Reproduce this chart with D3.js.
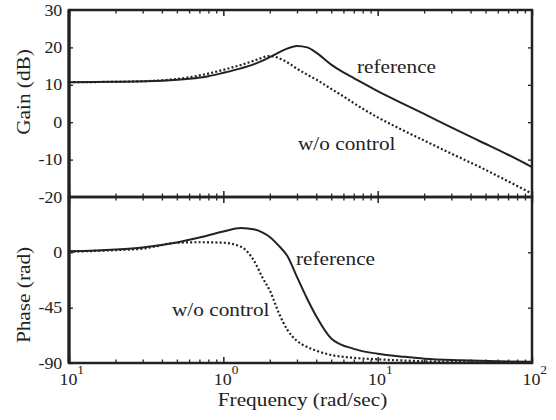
<!DOCTYPE html>
<html>
<head>
<meta charset="utf-8">
<script src="https://cdn.jsdelivr.net/npm/d3@7"></script>
<style>
body { margin: 0; background: #fff; }
svg text { font-family: "Liberation Serif", "Times New Roman", serif; fill: #222; }
</style>
</head>
<body>
<div id="chart"></div>
<script>
(function() {

// frequency points (rad/sec)
var freqGain = [0.1, 0.2, 0.4, 0.6, 0.8, 1, 1.3, 1.6, 2, 2.5, 3, 3.5, 4, 5, 6, 7, 10, 14, 20, 30, 46, 70, 100];
var gainRef  = [10.7, 10.8, 11.1, 11.6, 12.3, 13.2, 14.4, 15.6, 17.4, 19.4, 20.4, 20.0, 18.6, 15.4, 13.3, 11.8, 8.3, 5.3, 2.2, -1.4, -5.1, -8.7, -12];
var gainWo   = [10.7, 10.8, 11.2, 12.0, 13.0, 14.0, 15.3, 16.5, 17.7, 16.4, 14.3, 12.7, 11.4, 8.9, 6.9, 5.1, 1.3, -1.8, -4.9, -8.4, -12.0, -15.8, -19.1];

// frequency points
var freqPhase = [0.1, 0.2, 0.3, 0.5, 0.7, 1, 1.3, 1.6, 1.8, 2, 2.3, 2.6, 3, 3.5, 4, 5, 7, 10, 15, 20, 35, 60, 100];
var phaseRef  = [0.8, 2.3, 4.0, 8.0, 12.0, 17.0, 19.8, 18.5, 16.0, 12.5, 5, -3, -20, -38, -52, -70, -78.5, -82.5, -85, -86.5, -87.8, -88.6, -89];
var phaseWo   = [0.5, 1.8, 3.0, 7.8, 8.2, 7.8, 4.5, -8, -21, -31, -50, -63, -72, -77, -80, -83.5, -85.8, -87, -88, -88.6, -89.2, -89.5, -89.6];

var gainTicks  = [-20, -10, 0, 10, 20, 30];
var phaseTicks = [-90, -45, 0];
var phaseRightTicks = [-45, 0];
var decades    = [0.1, 1, 10, 100];
var decadeExp  = ["1", "0", "1", "2"];   // as printed on the original

var seriesLabels = ["reference", "w/o control"];

var width = 556, height = 420;
var left = 69, right = 532;
var gainTop = 10, mid = 197, bottom = 363;
var sx = 1.12;   // the original text is a little wide
var ink = "#222";

var svg = d3.select("#chart").append("svg")
            .attr("width", width)
            .attr("height", height);

svg.append("rect").attr("width", width).attr("height", height).attr("fill", "#fff");

var x = d3.scaleLog().domain([0.1, 100]).range([left, right]);
var yGain  = d3.scaleLinear().domain([-20, 30]).range([mid, gainTop]);
var yPhase = d3.scaleLinear().domain([-90, 45]).range([bottom, mid]);

// minor ticks 2..9 in every decade
var minor = [];
decades.slice(0, 3).forEach(function(d) {
    for (var k = 2; k <= 9; k++) minor.push(d * k);
});

var noDomain = function(g) { g.select(".domain").remove(); };
var plain = function(d) { return String(d); };   // hyphen minus like the original

var xBorder = function(y, isTop) {
    var mk = isTop ? d3.axisTop : d3.axisBottom;
    svg.append("g")
       .attr("transform", "translate(0," + y + ")")
       .attr("color", ink)
       .call(mk(x).tickValues(minor).tickSize(-3.5).tickFormat(""))
       .call(noDomain)
       .selectAll("line").attr("stroke-width", 1.3);
    svg.append("g")
       .attr("transform", "translate(0," + y + ")")
       .attr("color", ink)
       .call(mk(x).tickValues(decades).tickSize(-6).tickFormat(""))
       .call(noDomain)
       .selectAll("line").attr("stroke-width", 1.5);
};

var yBorder = function(scale, ticks, rightTicks) {
    var gl = svg.append("g")
                .attr("transform", "translate(" + left + ",0)")
                .attr("color", ink)
                .call(d3.axisLeft(scale).tickValues(ticks).tickSize(-4).tickPadding(6).tickFormat(plain))
                .call(noDomain);
    gl.selectAll("line").attr("stroke-width", 1.3);
    gl.selectAll("text")
      .attr("font-size", 16)
      .attr("fill", ink)
      .attr("transform", "scale(" + sx + ",1)");
    svg.append("g")
       .attr("transform", "translate(" + right + ",0)")
       .attr("color", ink)
       .call(d3.axisRight(scale).tickValues(rightTicks).tickSize(-4).tickFormat(""))
       .call(noDomain)
       .selectAll("line").attr("stroke-width", 1.3);
};

// ticks
xBorder(gainTop, true);
xBorder(mid, false);
xBorder(mid, true);
xBorder(bottom, false);
yBorder(yGain, gainTicks, gainTicks.slice(1, 5));
yBorder(yPhase, phaseTicks, phaseRightTicks);

// panel frames
[[gainTop, mid], [mid, bottom]].forEach(function(p) {
    svg.append("rect")
       .attr("x", left)
       .attr("y", p[0])
       .attr("width", right - left)
       .attr("height", p[1] - p[0])
       .attr("fill", "none")
       .attr("stroke", ink)
       .attr("stroke-width", 2.5);
});
svg.append("line")
   .attr("x1", left).attr("x2", left)
   .attr("y1", gainTop).attr("y2", bottom)
   .attr("stroke", ink).attr("stroke-width", 3.2);

// x tick labels, 10 with an exponent
var xl = svg.append("g")
            .attr("transform", "translate(0," + bottom + ")")
            .call(d3.axisBottom(x).tickValues(decades).tickSize(0).tickFormat(""))
            .call(noDomain);
xl.selectAll(".tick text").each(function(d, i) {
    var t = d3.select(this)
              .attr("y", 22)
              .attr("dy", null)
              .attr("dx", 2)
              .attr("font-size", 16)
              .attr("fill", ink)
              .attr("transform", "scale(" + sx + ",1)");
    t.append("tspan").text("10");
    t.append("tspan").attr("font-size", 12).attr("dy", -11).text(decadeExp[i]);
});

// curves
var gainLine = function(vals) {
    return d3.line()
             .x(function(d, i) { return x(freqGain[i]); })
             .y(function(d) { return yGain(d); })
             .curve(d3.curveMonotoneX)(vals);
};
var phaseLine = function(vals) {
    return d3.line()
             .x(function(d, i) { return x(freqPhase[i]); })
             .y(function(d) { return yPhase(d); })
             .curve(d3.curveMonotoneX)(vals);
};

var drawCurve = function(path, dotted) {
    svg.append("path")
       .attr("d", path)
       .attr("fill", "none")
       .attr("stroke", ink)
       .attr("stroke-width", dotted ? 2.2 : 2)
       .attr("stroke-dasharray", dotted ? "2,2.2" : null);
};

drawCurve(gainLine(gainWo), true);
drawCurve(gainLine(gainRef), false);
drawCurve(phaseLine(phaseWo), true);
drawCurve(phaseLine(phaseRef), false);

// in-plot labels
var label = function(txt, px, py, size, extra) {
    return svg.append("text")
              .attr("transform", "translate(" + px + "," + py + ")" + (extra || "") + " scale(" + sx + ",1)")
              .attr("font-size", size)
              .text(txt);
};
label(seriesLabels[0], 357, 73, 19);
label(seriesLabels[1], 298, 150, 19);
label(seriesLabels[0], 296, 265, 19);
label(seriesLabels[1], 172, 316, 19);

label("Gain (dB)", 30, 92, 19, " rotate(-90)").attr("text-anchor", "middle");
label("Phase (rad)", 30, 295, 19, " rotate(-90)").attr("text-anchor", "middle");
label("Frequency (rad/sec)", (left + right) / 2 + 2, 406, 19).attr("text-anchor", "middle");

})();
</script>
</body>
</html>
